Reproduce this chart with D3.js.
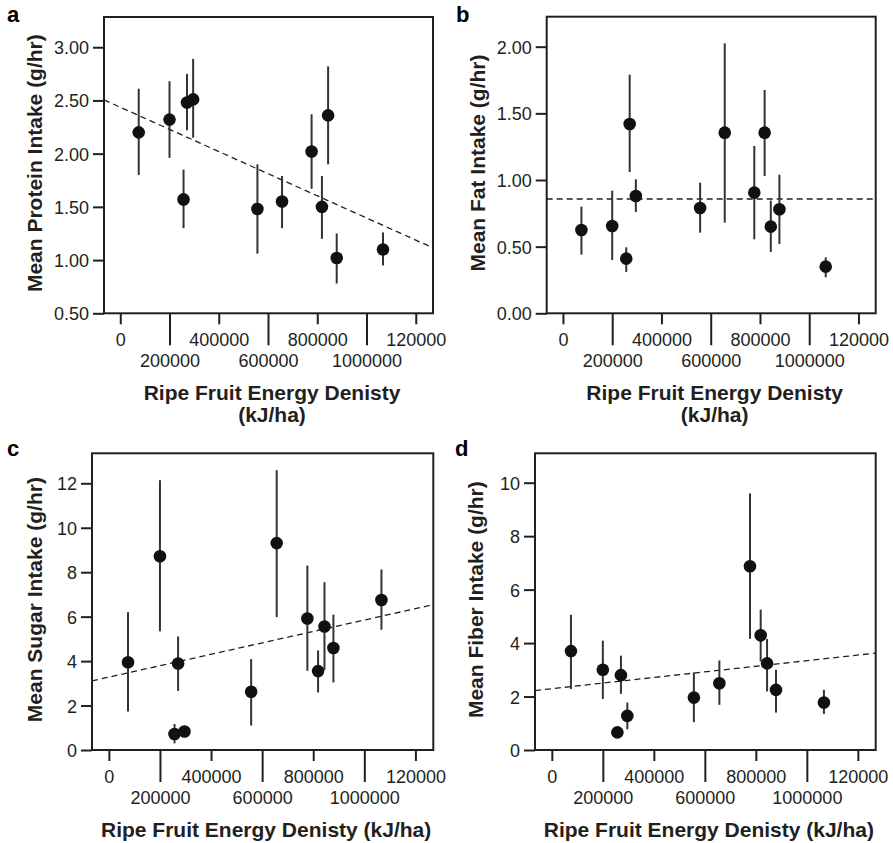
<!DOCTYPE html>
<html>
<head>
<meta charset="utf-8">
<script src="https://cdn.jsdelivr.net/npm/d3@7"></script>
<style>
  html, body { margin: 0; padding: 0; background: #fff; }
  svg { display: block; font-family: "Liberation Sans", Arial, Helvetica, sans-serif; }
</style>
</head>
<body>
<svg id="chart" width="893" height="843"></svg>
<script>
// ---------------- DATA ----------------
const siteEnergy = [75000, 200000, 257000, 271000, 296000, 557000, 657000, 777000, 819000, 844000, 879000, 1067000];

const protein   = [2.20, 2.32, 1.57, 2.48, 2.51, 1.48, 1.55, 2.02, 1.50, 2.36, 1.02, 1.10];
const proteinLo = [1.80, 1.96, 1.30, 2.22, 2.15, 1.06, 1.30, 1.67, 1.20, 1.90, 0.78, 0.95];
const proteinHi = [2.61, 2.68, 1.85, 2.75, 2.89, 1.90, 1.79, 2.37, 1.79, 2.82, 1.25, 1.26];

const fat   = [0.625, 0.655, 0.41, 1.42, 0.88, 0.79, 1.355, 0.905, 1.355, 0.65, 0.78, 0.35];
const fatLo = [0.44, 0.40, 0.31, 1.06, 0.76, 0.605, 0.68, 0.555, 1.03, 0.46, 0.52, 0.27];
const fatHi = [0.80, 0.92, 0.495, 1.79, 1.005, 0.98, 2.025, 1.255, 1.675, 0.845, 1.04, 0.42];

const sugar   = [3.95, 8.72, 0.72, 3.89, 0.83, 2.62, 9.31, 5.92, 3.55, 5.56, 4.59, 6.75];
const sugarLo = [1.73, 5.34, 0.30, 2.66, 0.60, 1.10, 5.98, 3.56, 2.59, 3.61, 3.04, 5.41];
const sugarHi = [6.20, 12.14, 1.17, 5.11, 1.05, 4.09, 12.59, 8.30, 4.48, 7.55, 6.09, 8.12];

const fiber   = [3.70, 3.00, 0.66, 2.80, 1.275, 1.96, 2.50, 6.875, 4.29, 3.24, 2.25, 1.775];
const fiberLo = [2.28, 1.91, 0.60, 2.10, 0.775, 1.04, 1.69, 4.16, 3.31, 2.19, 1.40, 1.35];
const fiberHi = [5.06, 4.09, 0.72, 3.53, 1.775, 2.90, 3.35, 9.60, 5.25, 4.15, 3.00, 2.25];

// dashed fitted lines: value at left and right end of the x domain
const trendX       = [-66000, 1270000];
const proteinTrend = [2.505, 1.115];
const fatTrend     = [0.8575, 0.8575];
const sugarTrend   = [3.11, 6.54];
const fiberTrend   = [2.225, 3.625];

const xTicks      = [0, 200000, 400000, 600000, 800000, 1000000, 1200000];
const xTickLabels = ["0", "200000", "400000", "600000", "800000", "1000000", "120000"];

const proteinTicks = [0.5, 1.0, 1.5, 2.0, 2.5, 3.0];
const fatTicks     = [0.0, 0.5, 1.0, 1.5, 2.0];
const sugarTicks   = [0, 2, 4, 6, 8, 10, 12];
const fiberTicks   = [0, 2, 4, 6, 8, 10];

const panelLetters = ["a", "b", "c", "d"];
const yTitles = ["Mean Protein Intake (g/hr)", "Mean Fat Intake (g/hr)", "Mean Sugar Intake (g/hr)", "Mean Fiber Intake (g/hr)"];
const xTitleTwoLine = ["Ripe Fruit Energy Denisty", "(kJ/ha)"];
const xTitleOneLine = "Ripe Fruit Energy Denisty (kJ/ha)";

// ---------------- LAYOUT ----------------
const INK = "#231f20";
const panels = [
  { letter: panelLetters[0], lx: 7, ly: 22, frame: {l: 104, t: 17, r: 433, b: 313.3}, yDomain: [0.5, 3.284],
    vals: protein, lo: proteinLo, hi: proteinHi, trend: proteinTrend, yTicks: proteinTicks, yFmt: d3.format(".2f"),
    yTitle: yTitles[0], yTitleX: 41.5, twoLine: true },
  { letter: panelLetters[1], lx: 456, ly: 22, frame: {l: 546.7, t: 16.7, r: 875.7, b: 313.3}, yDomain: [0, 2.225],
    vals: fat, lo: fatLo, hi: fatHi, trend: fatTrend, yTicks: fatTicks, yFmt: d3.format(".2f"),
    yTitle: yTitles[1], yTitleX: 484.5, twoLine: true },
  { letter: panelLetters[2], lx: 7, ly: 456, frame: {l: 92, t: 453.3, r: 433.3, b: 750}, yDomain: [0, 13.35],
    vals: sugar, lo: sugarLo, hi: sugarHi, trend: sugarTrend, yTicks: sugarTicks, yFmt: d3.format("d"),
    yTitle: yTitles[2], yTitleX: 41.5, twoLine: false },
  { letter: panelLetters[3], lx: 455, ly: 456, frame: {l: 535, t: 453.3, r: 875.7, b: 750}, yDomain: [0, 11.1],
    vals: fiber, lo: fiberLo, hi: fiberHi, trend: fiberTrend, yTicks: fiberTicks, yFmt: d3.format("d"),
    yTitle: yTitles[3], yTitleX: 483, twoLine: false }
];

const svg = d3.select("#chart");
svg.append("rect").attr("width", 893).attr("height", 843).attr("fill", "#fff");

panels.forEach(p => {
  const f = p.frame;
  const x = d3.scaleLinear().domain([-66000, 1270000]).range([f.l, f.r]);
  const y = d3.scaleLinear().domain(p.yDomain).range([f.b, f.t]);
  const g = svg.append("g");

  // panel letter
  g.append("text").attr("x", p.lx).attr("y", p.ly)
    .attr("font-size", 22).attr("font-weight", "bold").attr("fill", "#000").text(p.letter);

  // x axis
  const xa = g.append("g").attr("transform", `translate(0,${f.b})`)
    .call(d3.axisBottom(x).tickValues(xTicks).tickFormat((d, i) => xTickLabels[i]).tickSize(11));
  xa.select(".domain").remove();
  xa.selectAll(".tick line").attr("stroke", INK).attr("stroke-width", 2)
    .attr("y2", (d, i) => i % 2 === 1 ? 32 : 11);
  xa.selectAll(".tick text").attr("fill", INK).attr("font-size", 18)
    .attr("font-family", "Liberation Sans, Arial, sans-serif")
    .attr("dy", 0).attr("y", (d, i) => i % 2 === 1 ? 54 : 33);

  // y axis
  const ya = g.append("g").attr("transform", `translate(${f.l},0)`)
    .call(d3.axisLeft(y).tickValues(p.yTicks).tickFormat(p.yFmt).tickSize(11).tickPadding(4));
  ya.select(".domain").remove();
  ya.selectAll(".tick line").attr("stroke", INK).attr("stroke-width", 2);
  ya.selectAll(".tick text").attr("fill", INK).attr("font-size", 18)
    .attr("font-family", "Liberation Sans, Arial, sans-serif").attr("dy", "0.36em");

  // frame
  g.append("rect").attr("x", f.l).attr("y", f.t).attr("width", f.r - f.l).attr("height", f.b - f.t)
    .attr("fill", "none").attr("stroke", INK).attr("stroke-width", 2);

  // trend line
  g.append("line")
    .attr("x1", x(trendX[0])).attr("y1", y(p.trend[0]))
    .attr("x2", x(trendX[1])).attr("y2", y(p.trend[1]))
    .attr("stroke", INK).attr("stroke-width", 1.3).attr("stroke-dasharray", "6,4");

  // error bars
  g.selectAll(".err").data(siteEnergy).join("line").attr("class", "err")
    .attr("x1", d => x(d)).attr("x2", d => x(d))
    .attr("y1", (d, i) => y(p.lo[i])).attr("y2", (d, i) => y(p.hi[i]))
    .attr("stroke", "#333").attr("stroke-width", 2);

  // points
  g.selectAll(".pt").data(siteEnergy).join("circle").attr("class", "pt")
    .attr("cx", d => x(d)).attr("cy", (d, i) => y(p.vals[i])).attr("r", 6.3)
    .attr("fill", "#111");

  // y title
  const cy = (f.t + f.b) / 2 - 2;
  g.append("text").attr("transform", `translate(${p.yTitleX},${cy}) rotate(-90)`)
    .attr("text-anchor", "middle").attr("font-size", 21).attr("font-weight", "bold").attr("fill", INK)
    .text(p.yTitle);

  // x title
  const cx = (f.l + f.r) / 2 + 3.5;
  if (p.twoLine) {
    g.append("text").attr("x", cx).attr("y", f.b + 87).attr("text-anchor", "middle")
      .attr("font-size", 21).attr("font-weight", "bold").attr("fill", INK).text(xTitleTwoLine[0]);
    g.append("text").attr("x", cx).attr("y", f.b + 109).attr("text-anchor", "middle")
      .attr("font-size", 21).attr("font-weight", "bold").attr("fill", INK).text(xTitleTwoLine[1]);
  } else {
    g.append("text").attr("x", cx).attr("y", f.b + 87).attr("text-anchor", "middle")
      .attr("font-size", 21).attr("font-weight", "bold").attr("fill", INK).text(xTitleOneLine);
  }
});
</script>
</body>
</html>
